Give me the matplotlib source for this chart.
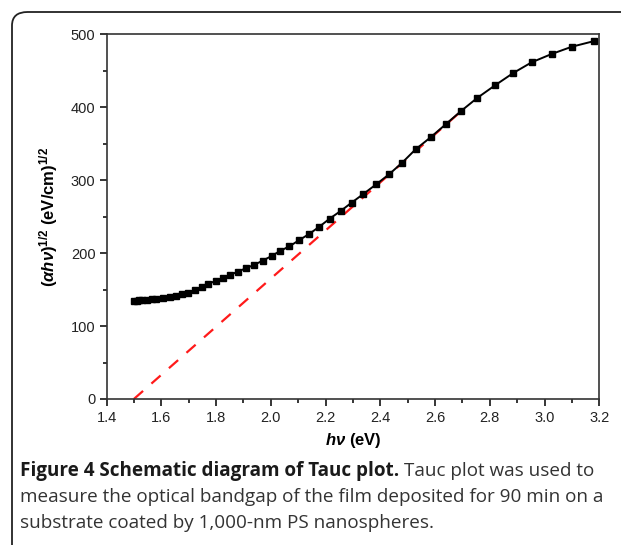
import matplotlib
matplotlib.use("Agg")
import matplotlib.pyplot as plt
from matplotlib.patches import FancyBboxPatch
from matplotlib.ticker import MultipleLocator
import numpy as np

# Data
photon_energy = [1.500, 1.510, 1.520, 1.530, 1.547, 1.565, 1.582, 1.607, 1.632, 1.653,
                 1.677, 1.699, 1.724, 1.748, 1.772, 1.799, 1.825, 1.851, 1.879, 1.909,
                 1.940, 1.970, 2.003, 2.034, 2.068, 2.103, 2.140, 2.176, 2.215, 2.255,
                 2.295, 2.338, 2.385, 2.432, 2.480, 2.529, 2.584, 2.639, 2.695, 2.754,
                 2.819, 2.886, 2.953, 3.026, 3.100, 3.182]
tauc_values = [134.4, 135.0, 135.5, 136.0, 136.4, 137.0, 137.4, 138.0, 139.4, 141.2,
               143.5, 145.7, 149.8, 153.5, 158.0, 161.8, 165.9, 170.0, 174.5, 179.2,
               184.0, 189.6, 196.0, 203.0, 209.3, 217.6, 226.2, 235.8, 247.2, 257.7,
               269.1, 281.0, 294.3, 308.0, 324.0, 342.3, 358.8, 376.6, 394.8, 412.7,
               430.0, 447.0, 461.6, 473.0, 483.0, 490.8]
fit_x = [1.50, 2.70]
fit_y = [0.0, 396.0]

x_ticks = [1.4, 1.6, 1.8, 2.0, 2.2, 2.4, 2.6, 2.8, 3.0, 3.2]
y_ticks = [0, 100, 200, 300, 400, 500]

plt.rcParams['mathtext.fontset'] = 'custom'
plt.rcParams['mathtext.rm'] = 'Liberation Sans:bold'
plt.rcParams['mathtext.it'] = 'Liberation Sans:bold:italic'
plt.rcParams['mathtext.bf'] = 'Liberation Sans:bold'

W, H = 621, 545
fig = plt.figure(figsize=(W / 100, H / 100), dpi=100)

# rounded frame around figure
frame = FancyBboxPatch((12 / W, -0.2), 1.2, (545 - 12) / H + 0.2,
                       boxstyle="round,pad=0,rounding_size=0.025",
                       transform=fig.transFigure, fill=False,
                       edgecolor='#222222', linewidth=1.3, clip_on=False)
fig.patches.append(frame)

ax = fig.add_axes([106.5 / W, 1 - 399 / H, (599.3 - 106.5) / W, (399 - 34.3) / H])

ax.plot(fit_x, fit_y, color='#ff1a1a', linewidth=1.6, linestyle=(0, (5.5, 5)), zorder=2)
ax.plot(photon_energy, tauc_values, color='black', linewidth=1.4, marker='s',
        markersize=4.8, markerfacecolor='black', markeredgecolor='black', zorder=3)
ax.set_xlim(1.4, 3.2)
ax.set_ylim(0, 500)
ax.set_xticks(x_ticks)
ax.set_xticklabels([f"{v:.1f}" for v in x_ticks])
ax.set_yticks(y_ticks)
ax.xaxis.set_minor_locator(MultipleLocator(0.1))
ax.yaxis.set_minor_locator(MultipleLocator(50))
ax.tick_params(which='major', direction='out', length=5, width=1.1, top=False, right=False,
               labelsize=10.5)
ax.tick_params(axis='x', which='major', pad=4)
ax.tick_params(axis='y', which='major', pad=3)
ax.tick_params(which='minor', direction='out', length=3, width=1.1, top=False, right=False)
for lab in ax.get_xticklabels() + ax.get_yticklabels():
    lab.set_family('Liberation Sans')
    lab.set_color('#222222')
for s in ax.spines.values():
    s.set_linewidth(1.2)
    s.set_color('#333333')

ax.set_xlabel(r'$h\nu$ (eV)', fontsize=12, fontweight='bold', family='Liberation Sans', labelpad=4)
ax.set_ylabel(r'$(\alpha h\nu)^{1/2}$ (eV/cm)$^{1/2}$', fontsize=12, fontweight='bold',
              family='Liberation Sans', labelpad=8)

# caption
cap_font = 'Open Sans'
fs = 13.6
t1 = fig.text(20 / W, 1 - 471 / H, 'Figure 4 Schematic diagram of Tauc plot.', fontsize=fs,
              fontweight='bold', family=cap_font, va='center', ha='left', color='#1a1a1a')
fig.canvas.draw()
bb = t1.get_window_extent()
fig.text((bb.x1 + 5) / W, 1 - 471 / H, 'Tauc plot was used to', fontsize=fs,
         family=cap_font, va='center', ha='left', color='#333333')
fig.text(20 / W, 1 - 497 / H, 'measure the optical bandgap of the film deposited for 90 min on a',
         fontsize=fs, family=cap_font, va='center', ha='left', color='#333333')
fig.text(20 / W, 1 - 523 / H, 'substrate coated by 1,000-nm PS nanospheres.',
         fontsize=fs, family=cap_font, va='center', ha='left', color='#333333')

fig.savefig('out.png', dpi=100)
